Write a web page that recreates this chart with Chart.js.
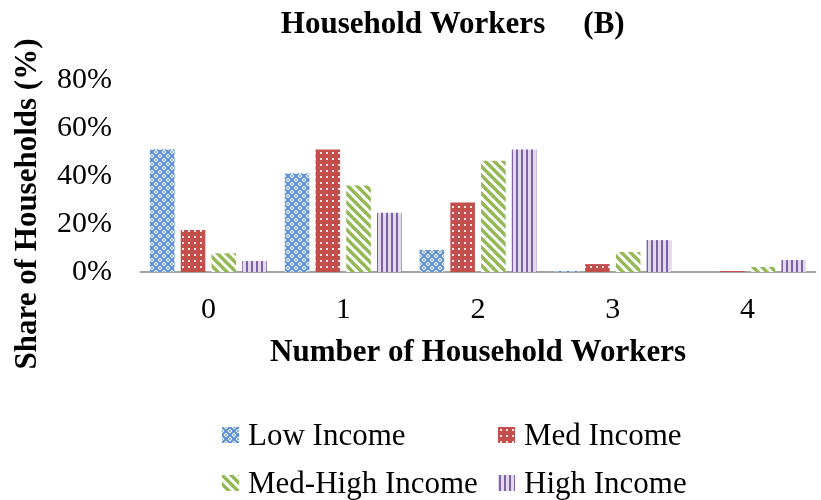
<!DOCTYPE html>
<html>
<head>
<meta charset="utf-8">
<script src="https://cdn.jsdelivr.net/npm/chart.js@4.4.1/dist/chart.umd.min.js"></script>
<style>
  body { margin: 0; background: #fff; }
  #wrap { position: relative; width: 821px; height: 500px; }
  .leg { position: absolute; font-family: 'Liberation Serif', serif; font-size: 31px; line-height: 31px; color: #000; white-space: nowrap; }
  .leg canvas { position: absolute; left: 0; }
  .leg span { position: absolute; left: 26px; top: 0; }
</style>
</head>
<body>
<div id="wrap">
  <canvas id="myChart" width="821" height="500"></canvas>
</div>
<script>
// chart data
const workerLabels = ['0', '1', '2', '3', '4'];
const seriesNames = ['Low Income', 'Med Income', 'Med-High Income', 'High Income'];
const lowIncome = [51, 41, 9.2, 0.4, 0];
const medIncome = [17.5, 51, 29, 3.3, 0.4];
const medHighIncome = [7.8, 36, 46.4, 8.3, 2.1];
const highIncome = [4.6, 24.7, 51, 13.3, 5];
const yTicks = [0, 20, 40, 60, 80];

// small pattern tiles, one per series
function makePattern(kind) {
    const c = document.createElement('canvas');
    const g = c.getContext('2d');
    if (kind === 'low') {
        c.width = 8; c.height = 8;
        g.fillStyle = '#ffffff'; g.fillRect(0, 0, 8, 8);
        g.strokeStyle = '#5a8ed2'; g.lineWidth = 2;
        g.beginPath();
        g.moveTo(0, 0); g.lineTo(8, 8);
        g.moveTo(8, 0); g.lineTo(0, 8);
        g.stroke();
        g.fillStyle = '#8fb3e2';
        g.fillRect(0, 3, 1, 2); g.fillRect(7, 3, 1, 2);
        g.fillRect(3, 0, 2, 1); g.fillRect(3, 7, 2, 1);
    } else if (kind === 'med') {
        c.width = 6; c.height = 6;
        g.fillStyle = '#c24f4c'; g.fillRect(0, 0, 6, 6);
        g.fillStyle = '#f6e2e1'; g.fillRect(2, 2, 2, 2);
    } else if (kind === 'medhigh') {
        c.width = 9; c.height = 9;
        g.fillStyle = '#ffffff'; g.fillRect(0, 0, 9, 9);
        g.strokeStyle = '#93b954'; g.lineWidth = 3.4;
        g.beginPath();
        g.moveTo(-9, 0); g.lineTo(9, 18);
        g.moveTo(0, 0); g.lineTo(9, 9);
        g.moveTo(0, -9); g.lineTo(18, 9);
        g.stroke();
    } else {
        c.width = 5; c.height = 4;
        g.fillStyle = '#e2daec'; g.fillRect(0, 0, 5, 4);
        g.fillStyle = '#7e60a4'; g.fillRect(1, 0, 2, 4);
    }
    return c;
}

const ctx = document.getElementById('myChart').getContext('2d');
const kinds = ['low', 'med', 'medhigh', 'high'];
const tiles = kinds.map(makePattern);
const fills = tiles.map(t => ctx.createPattern(t, 'repeat'));
const seriesData = [lowIncome, medIncome, medHighIncome, highIncome];

// titles drawn as text on the canvas
const titlePlugin = {
    id: 'titles',
    afterDraw(chart) {
        const c = chart.ctx;
        const area = chart.chartArea;
        c.save();
        c.fillStyle = '#000';
        c.textBaseline = 'middle';
        c.textAlign = 'center';
        c.font = 'bold 31px "Liberation Serif"';
        c.fillText('Household Workers', 413, 25);
        c.fillText('(B)', 604, 25);
        c.fillText('Number of Household Workers', (area.left + area.right) / 2, 353);
        c.translate(28, 204);
        c.rotate(-Math.PI / 2);
        c.fillText('Share of Households (%)', 0, 0);
        c.restore();
    }
};

Chart.defaults.font.family = 'Liberation Serif';
Chart.defaults.color = '#000';

new Chart(ctx, {
    type: 'bar',
    data: {
        labels: workerLabels,
        datasets: seriesNames.map((name, i) => ({
            label: name,
            data: seriesData[i],
            backgroundColor: fills[i],
            borderWidth: 0,
            categoryPercentage: 0.912,
            barPercentage: 0.8
        }))
    },
    options: {
        responsive: false,
        animation: false,
        layout: {
            padding: { left: 28, right: 6, top: 80, bottom: 152 }
        },
        scales: {
            x: {
                grid: { display: false, drawTicks: false, tickLength: 0 },
                border: { display: true, color: '#a3a3a3', width: 2 },
                ticks: { font: { size: 30 }, padding: 20 }
            },
            y: {
                min: 0,
                max: 80,
                afterBuildTicks(axis) {
                    axis.ticks = yTicks.map(v => ({ value: v }));
                },
                grid: { display: false, drawTicks: false, tickLength: 0 },
                border: { display: false },
                ticks: {
                    font: { size: 30 },
                    padding: 29,
                    callback: v => v + '%'
                }
            }
        },
        plugins: {
            legend: { display: false },
            tooltip: { enabled: false }
        }
    },
    plugins: [titlePlugin]
});

// legend laid out as a 2x2 grid under the chart
const legendPos = [
    { left: 222, top: 419 }, { left: 498, top: 419 },
    { left: 222, top: 467 }, { left: 498, top: 467 }
];
seriesNames.forEach((name, i) => {
    const item = document.createElement('div');
    item.className = 'leg';
    item.style.left = legendPos[i].left + 'px';
    item.style.top = legendPos[i].top + 'px';
    const sw = document.createElement('canvas');
    sw.width = 17; sw.height = 16;
    sw.style.top = '8px';
    const sg = sw.getContext('2d');
    sg.fillStyle = sg.createPattern(tiles[i], 'repeat');
    sg.fillRect(0, 0, 17, 16);
    const txt = document.createElement('span');
    txt.textContent = name;
    item.appendChild(sw);
    item.appendChild(txt);
    document.getElementById('wrap').appendChild(item);
});
</script>
</body>
</html>
